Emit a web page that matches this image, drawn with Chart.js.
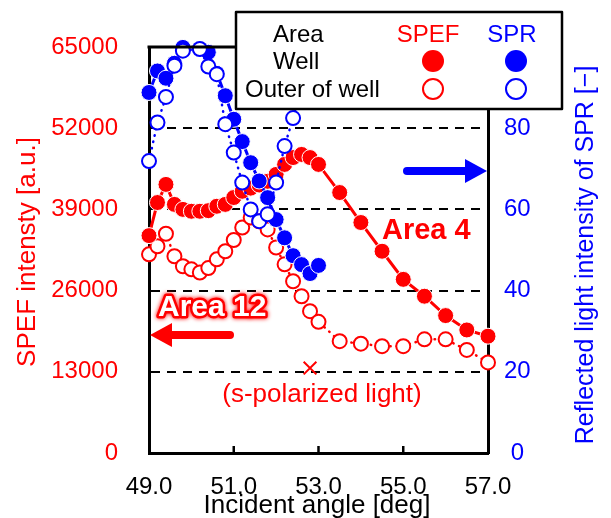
<!DOCTYPE html>
<html>
<head>
<meta charset="utf-8">
<script src="https://cdn.jsdelivr.net/npm/chart.js@4"></script>
<style>
  html, body { margin: 0; padding: 0; background: #fff; }
  canvas { display: block; }
</style>
</head>
<body>
<canvas id="chart" width="611" height="518"></canvas>
<script>
const angle = [49.0, 49.2, 49.4, 49.6, 49.8, 50.0, 50.2, 50.4, 50.6, 50.8, 51.0, 51.2, 51.4, 51.6, 51.8,
  52.0, 52.2, 52.4, 52.6, 52.8, 53.0, 53.5, 54.0, 54.5, 55.0, 55.5, 56.0, 56.5, 57.0];
const spefWell = [34800, 40100, 43000, 39800, 39000, 38700, 38700, 38800, 39500, 39800, 40900, 41900, 42400, 42900, 43500,
  44600, 46200, 47300, 47800, 47300, 46200, 41700, 36900, 32300, 27800, 25100, 22000, 19700, 18700];
const spefOuter = [31800, 33100, 35100, 31500, 29900, 29400, 28900, 29600, 31000, 32300, 34100, 36100, 37700, 37100, 35800,
  32900, 30200, 27500, 25100, 22700, 21000, 17900, 17500, 17100, 17100, 18200, 18200, 16500, 14500];
// SPR was measured 49.0 - 53.0 only (50.0 went off scale)
const sprWell = [88.8, 94.1, 92.3, 96.0, 99.9, null, 99.5, 98.7, 93.5, 88.0, 82.2, 76.7, 71.5, 67.0, 62.9,
  57.5, 53.0, 48.6, 46.4, 44.2, 46.2];
const sprOuter = [71.9, 81.4, 87.7, 95.4, 99.1, null, 99.5, 95.2, 93.3, 81.0, 74.0, 66.6, 60.0, 57.1, 58.8,
  66.6, 75.6, 82.5, 90.0];
const sPolAngle = [52.8];
const sPolValue = [13600];

const xTicks = [49, 51, 53, 55, 57];
const xTickLabels = ["49.0", "51.0", "53.0", "55.0", "57.0"];
const leftTicks = [0, 13000, 26000, 39000, 52000, 65000];
const rightTicks = [0, 20, 40, 60, 80, 100];
const rightTickLabels = ["0", "20", "40", "60", "80", ""];

const RED = "#ff0000";
const BLUE = "#0000ff";
const FONT = '"Liberation Sans", Arial, sans-serif';

function pts(xs, ys) {
  return ys.map((v, i) => ({ x: xs[i], y: v }));
}

function arrow(ctx, x1, x2, y, color, dir) {
  // dir = 1 -> head on the right, -1 -> head on the left
  const tip = dir > 0 ? x2 : x1;
  const base = tip - dir * 22;
  ctx.save();
  ctx.strokeStyle = color;
  ctx.fillStyle = color;
  ctx.lineWidth = 8;
  ctx.lineCap = "round";
  ctx.beginPath();
  ctx.moveTo(dir > 0 ? x1 : x2, y);
  ctx.lineTo(base, y);
  ctx.stroke();
  ctx.beginPath();
  ctx.moveTo(tip, y);
  ctx.lineTo(base, y - 12);
  ctx.lineTo(base, y + 12);
  ctx.closePath();
  ctx.fill();
  ctx.restore();
}

function marker(ctx, x, y, color, filled) {
  ctx.beginPath();
  ctx.arc(x, y, filled ? 11 : 10, 0, Math.PI * 2);
  if (filled) {
    ctx.fillStyle = color;
    ctx.fill();
  } else {
    ctx.fillStyle = "#fff";
    ctx.fill();
    ctx.lineWidth = 2;
    ctx.strokeStyle = color;
    ctx.stroke();
  }
}

const decor = {
  id: "decor",
  afterDatasetsDraw(chart) {
    const { ctx, chartArea: a, scales } = chart;
    ctx.save();

    // top frame line
    ctx.strokeStyle = "#000";
    ctx.lineWidth = 3;
    ctx.beginPath();
    ctx.moveTo(a.left - 1.5, a.top);
    ctx.lineTo(a.right + 1.5, a.top);
    ctx.stroke();

    // inward tick marks on x axis
    ctx.lineWidth = 2.5;
    xTicks.slice(1, -1).forEach((v) => {
      const px = scales.x.getPixelForValue(v);
      ctx.beginPath();
      ctx.moveTo(px, a.bottom);
      ctx.lineTo(px, a.bottom - 7);
      ctx.stroke();
    });

    // arrows
    arrow(ctx, 407, a.right - 1, 171, BLUE, 1);
    arrow(ctx, a.left + 1, 230, 335, RED, -1);

    ctx.textBaseline = "middle";

    // Area 4
    ctx.font = "bold 29px " + FONT;
    ctx.textAlign = "left";
    ctx.lineJoin = "round";
    ctx.strokeStyle = "#fff";
    ctx.lineWidth = 5;
    ctx.strokeText("Area 4", 382, 231);
    ctx.fillStyle = RED;
    ctx.fillText("Area 4", 382, 231);

    // Area 12
    ctx.font = "bold 30px " + FONT;
    ctx.save();
    ctx.shadowColor = RED;
    ctx.shadowBlur = 4;
    ctx.strokeStyle = RED;
    ctx.lineWidth = 5;
    ctx.strokeText("Area 12", 158, 308);
    ctx.restore();
    ctx.fillStyle = "#fff";
    ctx.fillText("Area 12", 158, 308);

    // s-polarized label
    ctx.font = "26px " + FONT;
    ctx.textAlign = "center";
    ctx.fillStyle = RED;
    ctx.fillText("(s-polarized light)", 322, 395);

    // legend box
    ctx.fillStyle = "#fff";
    ctx.fillRect(236, 12, 326, 97);
    ctx.strokeStyle = "#000";
    ctx.lineWidth = 2.5;
    ctx.strokeRect(236, 12, 326, 97);

    ctx.font = "24px " + FONT;
    ctx.textAlign = "left";
    ctx.fillStyle = "#000";
    ctx.fillText("Area", 273, 35);
    ctx.fillText("Well", 273, 62);
    ctx.fillText("Outer of well", 245, 90);
    ctx.textAlign = "center";
    ctx.fillStyle = RED;
    ctx.fillText("SPEF", 428, 35);
    ctx.fillStyle = BLUE;
    ctx.fillText("SPR", 512, 35);
    marker(ctx, 433, 61, RED, true);
    marker(ctx, 516, 61, BLUE, true);
    marker(ctx, 433, 89, RED, false);
    marker(ctx, 516, 89, BLUE, false);

    // axis titles
    ctx.font = "26px " + FONT;
    ctx.fillStyle = "#000";
    ctx.fillText("Incident angle [deg]", 317, 506);

    ctx.save();
    ctx.translate(28, 252);
    ctx.rotate(-Math.PI / 2);
    ctx.fillStyle = RED;
    ctx.fillText("SPEF intensty [a.u.]", 0, 0);
    ctx.restore();

    ctx.save();
    ctx.translate(586, 255);
    ctx.rotate(-Math.PI / 2);
    ctx.font = "25px " + FONT;
    ctx.fillStyle = BLUE;
    ctx.fillText("Reflected light intensity of SPR [\u2212]", 0, 0);
    ctx.restore();

    ctx.restore();
  },
};

const filledPoint = (color) => ({
  borderColor: color,
  backgroundColor: color,
  borderWidth: 3,
  pointRadius: 8,
  pointBackgroundColor: color,
  pointBorderColor: "#fff",
  pointBorderWidth: 1,
});

const openPoint = (color) => ({
  borderColor: color,
  backgroundColor: "#fff",
  borderWidth: 2.5,
  borderDash: [0.5, 6],
  borderCapStyle: "round",
  pointRadius: 7,
  pointBackgroundColor: "#fff",
  pointBorderColor: color,
  pointBorderWidth: 2,
});

new Chart(document.getElementById("chart"), {
  type: "line",
  data: {
    datasets: [
      {
        label: "Outer of well SPR",
        data: pts(angle, sprOuter),
        yAxisID: "y2",
        spanGaps: true,
        clip: false,
        order: 0,
        ...openPoint(BLUE),
      },
      {
        label: "Well SPR",
        data: pts(angle, sprWell),
        yAxisID: "y2",
        spanGaps: true,
        clip: false,
        order: 1,
        ...filledPoint(BLUE),
      },
      {
        label: "Well SPEF",
        data: pts(angle, spefWell),
        yAxisID: "y",
        order: 2,
        clip: false,
        ...filledPoint(RED),
      },
      {
        label: "Outer of well SPEF",
        data: pts(angle, spefOuter),
        yAxisID: "y",
        order: 3,
        clip: false,
        ...openPoint(RED),
      },
      {
        label: "s-polarized light",
        data: pts(sPolAngle, sPolValue),
        yAxisID: "y",
        order: 4,
        showLine: false,
        pointStyle: "crossRot",
        pointRadius: 9,
        pointBorderColor: RED,
        pointBorderWidth: 2,
        borderColor: RED,
      },
    ],
  },
  options: {
    responsive: false,
    animation: false,
    events: [],
    layout: { padding: { top: 47, left: 0, right: 0, bottom: 0 } },
    plugins: { legend: { display: false }, tooltip: { enabled: false } },
    scales: {
      x: {
        type: "linear",
        min: 49,
        max: 57,
        afterBuildTicks: (s) => { s.ticks = xTicks.map((v) => ({ value: v })); },
        afterFit: (s) => { s.height = 65; },
        grid: { display: false, drawTicks: false },
        border: { display: true, color: "#000", width: 3 },
        ticks: {
          padding: 20,
          color: "#000",
          font: { size: 24, family: FONT },
          maxRotation: 0,
          autoSkip: false,
          callback: (v) => xTickLabels[xTicks.indexOf(v)],
        },
      },
      y: {
        position: "left",
        min: 0,
        max: 65000,
        afterBuildTicks: (s) => { s.ticks = leftTicks.map((v) => ({ value: v })); },
        afterFit: (s) => { s.width = 149; },
        grid: {
          drawTicks: false,
          lineWidth: 2,
          color: (c) => (c.tick && c.tick.value > 0 && c.tick.value < 65000 ? "#000" : "rgba(0,0,0,0)"),
        },
        border: { display: true, color: "#000", width: 3, dash: [9, 7] },
        ticks: {
          padding: 31,
          color: RED,
          font: { size: 24, family: FONT },
          callback: (v) => String(v),
        },
      },
      y2: {
        position: "right",
        min: 0,
        max: 100,
        afterBuildTicks: (s) => { s.ticks = rightTicks.map((v) => ({ value: v })); },
        afterFit: (s) => { s.width = 123; },
        grid: { drawOnChartArea: false, drawTicks: false },
        border: { display: true, color: "#000", width: 3 },
        ticks: {
          padding: 16,
          crossAlign: "center",
          color: BLUE,
          font: { size: 24, family: FONT },
          callback: (v) => rightTickLabels[rightTicks.indexOf(v)],
        },
      },
    },
  },
  plugins: [decor],
});
</script>
</body>
</html>
